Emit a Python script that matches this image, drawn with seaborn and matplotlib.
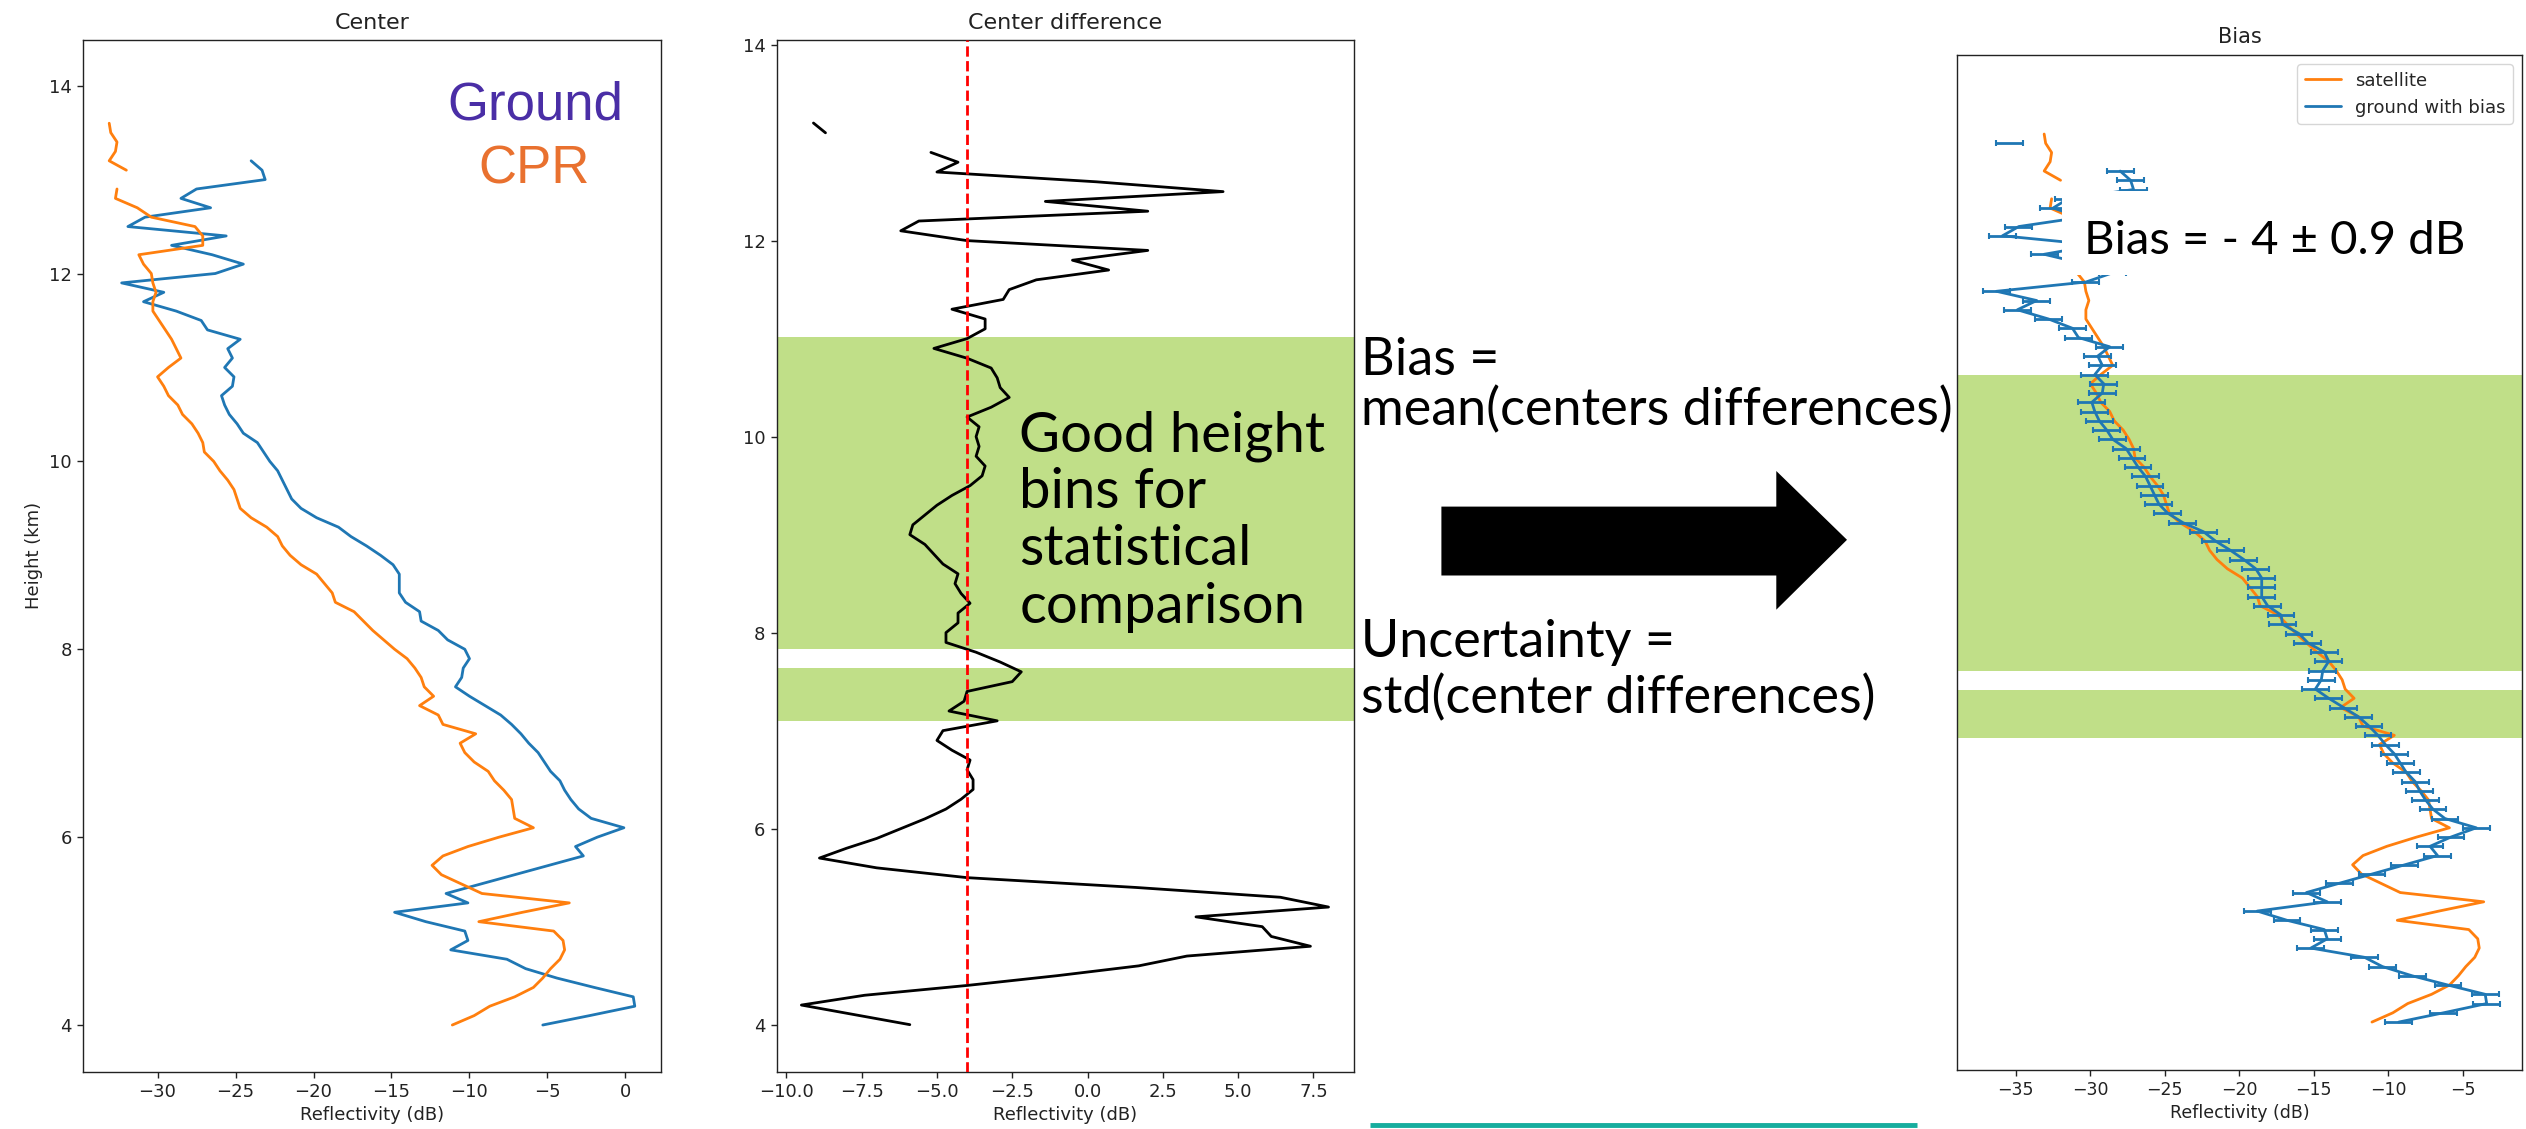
import numpy as np
import pandas as pd
import matplotlib
matplotlib.use("Agg")
import matplotlib.pyplot as plt
import seaborn as sns
from matplotlib.patches import Polygon, Rectangle
from matplotlib.lines import Line2D

# ---------------- data ----------------
heights = [4.0, 4.1, 4.2, 4.3, 4.4, 4.5, 4.6, 4.7, 4.8, 4.9,
           5.0, 5.1, 5.2, 5.3, 5.4, 5.5, 5.6, 5.7, 5.8, 5.9,
           6.0, 6.1, 6.2, 6.3, 6.4, 6.5, 6.6, 6.7, 6.8, 6.9,
           7.0, 7.1, 7.2, 7.3, 7.4, 7.5, 7.6, 7.7, 7.8, 7.9,
           8.0, 8.1, 8.2, 8.3, 8.4, 8.5, 8.6, 8.7, 8.8, 8.9,
           9.0, 9.1, 9.2, 9.3, 9.4, 9.5, 9.6, 9.7, 9.8, 9.9,
           10.0, 10.1, 10.2, 10.3, 10.4, 10.5, 10.6, 10.7, 10.8, 10.9,
           11.0, 11.1, 11.2, 11.3, 11.4, 11.5, 11.6, 11.7, 11.8, 11.9,
           12.0, 12.1, 12.2, 12.3, 12.4, 12.5, 12.6, 12.7, 12.8, 12.9,
           13.0, 13.1, 13.2, 13.3, 13.4, 13.5, 13.6]

nan = np.nan
ground = [-5.3, -2.3, 0.6, 0.5, -2.0, -4.4, -6.4, -7.6, -11.2, -10.1,
          -10.3, -12.8, -14.8, -10.1, -11.5, -9.3, -7.1, -4.9, -2.7, -3.2,
          -1.8, -0.1, -2.2, -3.0, -3.5, -3.9, -4.2, -4.8, -5.2, -5.6,
          -6.2, -6.7, -7.3, -8.0, -9.0, -10.0, -10.9, -10.5, -10.4, -10.0,
          -10.3, -11.4, -12.0, -13.1, -13.2, -14.1, -14.5, -14.5, -14.5, -14.9,
          -15.7, -16.6, -17.6, -18.4, -19.8, -20.8, -21.4, -21.7, -22.0, -22.3,
          -22.8, -23.2, -23.6, -24.5, -24.9, -25.4, -25.7, -25.9, -25.2, -25.1,
          -25.7, -25.2, -25.5, -24.7, -26.8, -27.2, -28.8, -30.9, -29.6, -32.3,
          -26.3, -24.5, -26.5, -29.1, -25.6, -31.9, -30.8, -26.6, -28.5, -27.5,
          -23.1, -23.3, -24.0, nan, nan, -31.4, nan]

cpr = [-11.1, -9.7, -8.7, -7.1, -5.9, -5.3, -4.8, -4.2, -3.9, -4.0,
       -4.6, -9.4, -6.6, -3.6, -9.2, -10.5, -11.8, -12.4, -11.7, -10.1,
       -8.1, -5.9, -7.1, -7.2, -7.3, -7.8, -8.4, -8.8, -9.7, -10.3,
       -10.6, -9.6, -11.7, -12.0, -13.2, -12.3, -12.9, -13.1, -13.5, -14.0,
       -14.8, -15.5, -16.2, -16.8, -17.4, -18.6, -18.8, -19.3, -19.8, -20.8,
       -21.5, -22.0, -22.3, -23.0, -24.0, -24.7, -24.9, -25.1, -25.5, -26.0,
       -26.4, -27.0, -27.1, -27.4, -27.8, -28.4, -28.7, -29.3, -29.6, -30.0,
       -29.3, -28.5, -28.8, -29.1, -29.5, -29.9, -30.3, -30.3, -30.1, -30.3,
       -30.4, -30.9, -31.2, -27.1, -27.1, -27.6, -30.4, -31.3, -32.7, -32.6,
       nan, -32.0, -33.1, -32.7, -32.6, -33.0, -33.1]

center_diff = [-5.9, -7.7, -9.5, -7.4, -4.0, -1.0, 1.7, 3.3, 7.4, 6.1,
               5.8, 3.6, 8.0, 6.4, 1.6, -4.0, -7.0, -8.9, -8.0, -7.0,
               -6.2, -5.4, -4.7, -4.2, -3.8, -3.8, -4.0, -3.9, -4.5, -5.0,
               -4.8, -3.0, -4.6, -4.1, -4.0, -2.5, -2.2, -2.9, -3.7, -4.7,
               -4.7, -4.3, -4.3, -3.9, -4.2, -4.4, -4.3, -4.8, -5.1, -5.4,
               -5.9, -5.8, -5.4, -5.0, -4.5, -3.9, -3.5, -3.4, -3.7, -3.6,
               -3.7, -3.6, -4.0, -3.2, -2.6, -2.9, -3.0, -3.2, -4.0, -5.1,
               -4.0, -3.4, -3.4, -4.5, -2.8, -2.6, -1.7, 0.7, -0.5, 2.0,
               -4.0, -6.2, -5.6, 2.0, -1.4, 4.5, 0.3, -5.0, -4.3, -5.2,
               nan, -8.7, -9.1, nan, nan, -1.6, nan]

bias = -4.0
uncertainty = 0.9
good_bins = [(7.10, 7.64), (7.83, 11.02)]

# ---------------- style ----------------
sns.set_theme(style="ticks")
plt.rcParams["font.family"] = ["DejaVu Sans"]
plt.rcParams["axes.linewidth"] = 1.0
plt.rcParams["axes.edgecolor"] = "#222222"

BLUE = "#1f77b4"
ORANGE = "#ff7f0e"
GREEN = "#c0df88"

W, H = 2526, 1129
fig = plt.figure(figsize=(W / 100, H / 100), dpi=100)
fig.patch.set_facecolor("white")


def rect(l, t, r, b):
    return [l / W, 1 - b / H, (r - l) / W, (b - t) / H]


def fx(x):
    return x / W


def fy(y):
    return 1 - y / H


def segments(values):
    df = pd.DataFrame({"height": heights, "value": values})
    df["seg"] = df["value"].isna().cumsum()
    return df.dropna()


def draw_line(ax, values, color, lw=2.0):
    sns.lineplot(data=segments(values), x="value", y="height", units="seg",
                 estimator=None, sort=False, orient="y", color=color,
                 linewidth=lw, ax=ax)


def style_axes(ax, tsize=13):
    ax.tick_params(axis="both", labelsize=tsize, length=4.5, width=1.0,
                   color="#222222", labelcolor="#222222")
    for s in ax.spines.values():
        s.set_visible(True)
        s.set_linewidth(1.0)


# ---------------- panel 1 : Center ----------------
ax1 = fig.add_axes(rect(83, 40, 661, 1071.6))
draw_line(ax1, ground, BLUE)
draw_line(ax1, cpr, ORANGE)
ax1.set_xlim(-34.78, 2.28)
ax1.set_ylim(3.504, 14.486)
ax1.set_xticks([-30, -25, -20, -15, -10, -5, 0])
ax1.set_yticks([4, 6, 8, 10, 12, 14])
ax1.set_title("Center", fontsize=16, pad=8, color="#222222")
ax1.set_xlabel("Reflectivity (dB)", fontsize=13, color="#222222")
ax1.set_ylabel("Height (km)", fontsize=13, color="#222222")
style_axes(ax1)

# ---------------- panel 2 : Center difference ----------------
ax2 = fig.add_axes(rect(776.7, 40, 1353.5, 1071.6))
for lo, hi in good_bins:
    ax2.axhspan(lo, hi, color=GREEN, lw=0, zorder=0.5)
draw_line(ax2, center_diff, "black")
ax2.axvline(bias, color="red", ls="--", lw=2.0, zorder=3)
ax2.set_xlim(-10.32, 8.83)
ax2.set_ylim(3.521, 14.047)
ax2.set_xticks([-10, -7.5, -5, -2.5, 0, 2.5, 5, 7.5])
ax2.set_yticks([4, 6, 8, 10, 12, 14])
ax2.set_title("Center difference", fontsize=16, pad=8, color="#222222")
ax2.set_xlabel("Reflectivity (dB)", fontsize=13, color="#222222")
ax2.set_ylabel("")
style_axes(ax2)

# ---------------- panel 3 : Bias ----------------
ax3 = fig.add_axes(rect(1957, 55.4, 2522, 1069.7))
for lo, hi in [(7.07, 7.59), (7.80, 10.99)]:
    ax3.axhspan(lo, hi, color=GREEN, lw=0, zorder=0.5)
draw_line(ax3, cpr, ORANGE)
ground_bias = np.array(ground) + bias
ax3.errorbar(ground_bias, heights, xerr=uncertainty, color=BLUE, lw=2.0,
             elinewidth=2.0, capsize=2.5, capthick=1.5, zorder=3)
ax3.set_xlim(-38.95, -1.03)
ax3.set_ylim(3.485, 14.45)
ax3.set_xticks([-35, -30, -25, -20, -15, -10, -5])
ax3.set_yticks([])
ax3.set_title("Bias", fontsize=15, pad=9, color="#222222")
ax3.set_xlabel("Reflectivity (dB)", fontsize=12.5, color="#222222")
ax3.set_ylabel("")
style_axes(ax3, tsize=12.5)
handles = [Line2D([], [], color=ORANGE, lw=2), Line2D([], [], color=BLUE, lw=2)]
ax3.legend(handles, ["satellite", "ground with bias"], loc="upper right",
           fontsize=13, frameon=True, framealpha=0.8, edgecolor="#cccccc")

# ---------------- slide annotations ----------------
TXT = ["Lato", "DejaVu Sans"]
fig.text(fx(535), fy(120), "Ground", ha="center", va="baseline", fontsize=38,
         family=["Liberation Sans", "DejaVu Sans"], color="#4a2ea6")
fig.text(fx(534), fy(184), "CPR", ha="center", va="baseline", fontsize=38,
         family=["Liberation Sans", "DejaVu Sans"], color="#e9712f")

for s, y in [("Good height", 451.7), ("bins for", 508), ("statistical", 565),
             ("comparison", 623)]:
    fig.text(fx(1019.5), fy(y), s, ha="left", va="baseline", fontsize=40.5,
             family=TXT, color="black")

for s, y in [("Bias =", 375.5), ("mean(centers differences)", 425.5),
             ("Uncertainty =", 657), ("std(center differences)", 713)]:
    fig.text(fx(1361), fy(y), s, ha="left", va="baseline", fontsize=37.5,
             family=TXT, color="black")

# arrow
arrow_px = [(1441.4, 506.6), (1776.3, 506.6), (1776.3, 471), (1847, 539.8),
            (1776.3, 609.7), (1776.3, 575.5), (1441.4, 575.5)]
fig.add_artist(Polygon([(fx(x), fy(y)) for x, y in arrow_px], closed=True,
                       transform=fig.transFigure, facecolor="black",
                       edgecolor="none", zorder=5))

# white box + bias text on the right panel
fig.add_artist(Rectangle((fx(2062), fy(275)), (2470 - 2062) / W, (275 - 191) / H,
                         transform=fig.transFigure, facecolor="white",
                         edgecolor="none", zorder=5))
fig.text(fx(2083.6), fy(253.6), "Bias = - 4 \u00b1 0.9 dB", ha="left",
         va="baseline", fontsize=34, family=TXT, color="black", zorder=6)

# teal underline at the bottom
fig.add_artist(Line2D([fx(1370), fx(1917)], [fy(1125), fy(1125)],
                      transform=fig.transFigure, color="#17ad9e", lw=3.5,
                      solid_capstyle="butt", zorder=5))

fig.savefig("out.png", dpi=100)
